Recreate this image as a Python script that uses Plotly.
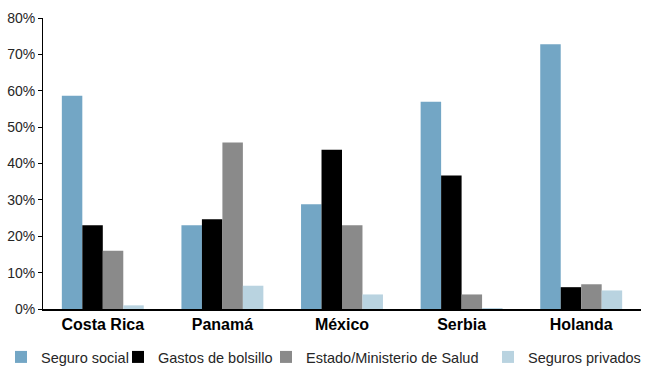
import plotly.graph_objects as go

countries = ["Costa Rica", "Panamá", "México", "Serbia", "Holanda"]
seguro_social = [58.6, 23.0, 28.8, 57.0, 72.8]
gastos_bolsillo = [23.0, 24.7, 43.8, 36.7, 6.0]
estado_ministerio = [16.0, 45.8, 23.0, 4.0, 6.8]
seguros_privados = [1.0, 6.4, 4.0, 0.2, 5.1]
y_ticks = [0, 10, 20, 30, 40, 50, 60, 70, 80]
y_tick_labels = [f"{v}%" for v in y_ticks]

series = [
    ("Seguro social", seguro_social, "#73a6c5"),
    ("Gastos de bolsillo", gastos_bolsillo, "#000000"),
    ("Estado/Ministerio de Salud", estado_ministerio, "#8a8a8a"),
    ("Seguros privados", seguros_privados, "#b9d3e0"),
]

W, H = 645, 366
font_family = "Liberation Sans, Arial, sans-serif"
text_color = "#262626"

# one single-entry legend per series, laid out along the bottom edge
legend_ids = ["legend", "legend2", "legend3", "legend4"]
legend_x_px = [1, 118, 266, 488]

fig = go.Figure()
for (name, vals, color), lid in zip(series, legend_ids):
    fig.add_trace(go.Bar(
        name=name, x=countries, y=vals, legend=lid,
        marker=dict(color=color, line=dict(width=0)),
    ))

legend_layout = {}
for lid, xpx in zip(legend_ids, legend_x_px):
    legend_layout[lid] = dict(
        orientation="h", xref="container", yref="container",
        x=xpx / W, xanchor="left", y=(H - 357) / H, yanchor="middle",
        font=dict(size=14.5, family=font_family, color=text_color),
        itemwidth=30, bgcolor="rgba(0,0,0,0)",
    )

fig.update_layout(
    width=W, height=H,
    margin=dict(l=43, r=4, t=18, b=57, autoexpand=False),
    barmode="group", bargap=0.315, bargroupgap=0,
    plot_bgcolor="white", paper_bgcolor="white",
    font=dict(family=font_family, color=text_color, size=14),
    showlegend=True,
    xaxis=dict(
        showline=True, linecolor="black", linewidth=1.5,
        ticks="", showgrid=False,
        tickfont=dict(size=16, family=font_family, color="black", weight="bold"),
    ),
    yaxis=dict(
        range=[0, 80], tickvals=y_ticks, ticktext=y_tick_labels,
        showline=True, linecolor="black", linewidth=1,
        ticks="outside", ticklen=4, tickcolor="black",
        showgrid=False, zeroline=False,
        tickfont=dict(size=14, family=font_family, color=text_color),
    ),
    **legend_layout,
)

fig.write_html("out.html")
